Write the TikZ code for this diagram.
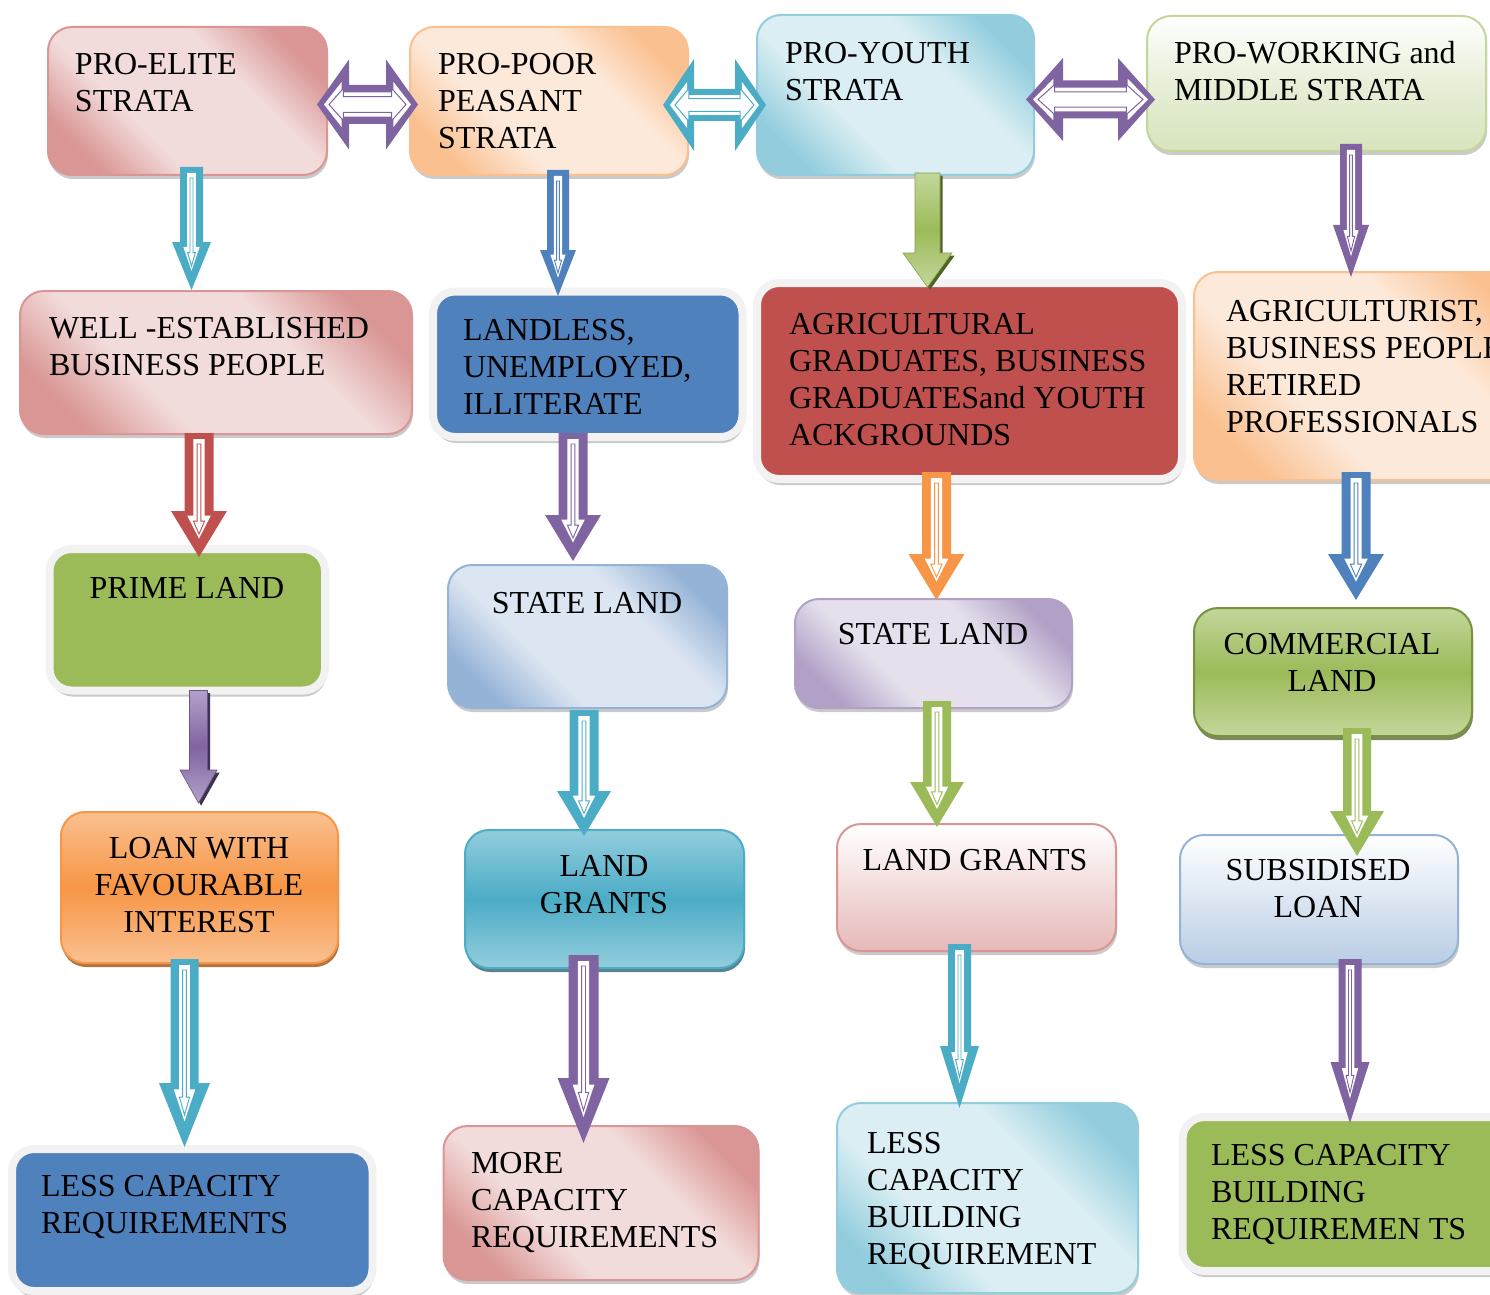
\documentclass[tikz,border=0pt]{standalone}
\usepackage{fontspec}
\setmainfont{Liberation Serif}
\usetikzlibrary{shadows,fit,calc}

\definecolor{pinkD}{HTML}{D99694}
\definecolor{pinkL}{HTML}{F2DCDB}
\definecolor{pinkM}{HTML}{E6B9B8}
\definecolor{orgD}{HTML}{FAC090}
\definecolor{orgL}{HTML}{FDE9D9}
\definecolor{org}{HTML}{F79646}
\definecolor{orgSh}{HTML}{984807}
\definecolor{aquaD}{HTML}{93CDDD}
\definecolor{aquaL}{HTML}{DAEEF3}
\definecolor{aqua}{HTML}{4BACC6}
\definecolor{aquaSh}{HTML}{215968}
\definecolor{grnL}{HTML}{D7E4BD}
\definecolor{grnM}{HTML}{C3D69B}
\definecolor{grn}{HTML}{9BBB59}
\definecolor{grnDk}{HTML}{77933C}
\definecolor{grnSh}{HTML}{4F6228}
\definecolor{blu}{HTML}{4F81BD}
\definecolor{bluD}{HTML}{95B3D7}
\definecolor{bluL}{HTML}{DCE6F2}
\definecolor{bluM}{HTML}{B9CDE5}
\definecolor{redx}{HTML}{C0504D}
\definecolor{pur}{HTML}{8064A2}
\definecolor{purD}{HTML}{B2A1C7}
\definecolor{purL}{HTML}{E5E0EC}
\definecolor{purSh}{HTML}{3F3151}
\definecolor{glow}{HTML}{F2F2F2}

% diagonal sheen: dark corners, light band through the middle
\colorlet{shdark}{black}
\colorlet{shlight}{white}
\pgfdeclarehorizontalshading[shdark,shlight]{boxdiag}{100bp}{color(0bp)=(shdark); color(24bp)=(shdark); color(38bp)=(shlight); color(62bp)=(shlight); color(76bp)=(shdark); color(100bp)=(shdark)}

% hollow block arrow pointing down: start, tip, colour, shaft half-width, head half-width, head length (px)
\newcommand\flowdown[6]{%
  \path (#1); \pgfgetlastxy{\arrSx}{\arrSy}
  \path (#2); \pgfgetlastxy{\arrTx}{\arrTy}
  \pgfmathsetmacro\arrL{(\arrSy-\arrTy)/0.5}
  \begin{scope}[shift={(#1)}]
    \fill[#3] (-#4,0) -- (#4,0) -- (#4,\arrL-#6) -- (#5,\arrL-#6) -- (0,\arrL)
      -- (-#5,\arrL-#6) -- (-#4,\arrL-#6) -- cycle;
    \fill[white] (-0.38*#4,6) -- (0.38*#4,6) -- (0.38*#4,\arrL-0.9*#6) -- (0.42*#5,\arrL-0.9*#6)
      -- (0,\arrL-0.4*#6) -- (-0.42*#5,\arrL-0.9*#6) -- (-0.38*#4,\arrL-0.9*#6) -- cycle;
    \filldraw[fill=white, draw=#3, line width=0.45pt] (-0.13*#4,11) -- (0.13*#4,11)
      -- (0.13*#4,\arrL-0.78*#6) -- (0.2*#5,\arrL-0.78*#6) -- (0,\arrL-0.5*#6)
      -- (-0.2*#5,\arrL-0.78*#6) -- (-0.13*#4,\arrL-0.78*#6) -- cycle;
  \end{scope}}

% hollow double-headed block arrow: left tip, right tip, colour, shaft half-width, head half-width, head length (px)
\newcommand\flowboth[6]{%
  \path (#1); \pgfgetlastxy{\arrSx}{\arrSy}
  \path (#2); \pgfgetlastxy{\arrTx}{\arrTy}
  \pgfmathsetmacro\arrL{(\arrTx-\arrSx)/0.5}
  \begin{scope}[shift={(#1)}]
    \fill[#3] (0,0) -- (#6,-#5) -- (#6,-#4) -- (\arrL-#6,-#4) -- (\arrL-#6,-#5) -- (\arrL,0)
      -- (\arrL-#6,#5) -- (\arrL-#6,#4) -- (#6,#4) -- (#6,#5) -- cycle;
    \fill[white] (7,0) -- (7+0.55*#6,-0.5*#5) -- (7+0.55*#6,-0.62*#4) -- (\arrL-7-0.55*#6,-0.62*#4)
      -- (\arrL-7-0.55*#6,-0.5*#5) -- (\arrL-7,0) -- (\arrL-7-0.55*#6,0.5*#5)
      -- (\arrL-7-0.55*#6,0.62*#4) -- (7+0.55*#6,0.62*#4) -- (7+0.55*#6,0.5*#5) -- cycle;
    \filldraw[fill=white, draw=#3, line width=0.5pt] (12,0) -- (12+0.45*#6,-0.36*#5)
      -- (12+0.45*#6,-0.4*#4) -- (\arrL-12-0.45*#6,-0.4*#4) -- (\arrL-12-0.45*#6,-0.36*#5)
      -- (\arrL-12,0) -- (\arrL-12-0.45*#6,0.36*#5) -- (\arrL-12-0.45*#6,0.4*#4)
      -- (12+0.45*#6,0.4*#4) -- (12+0.45*#6,0.36*#5) -- cycle;
  \end{scope}}

% solid shaded block arrow pointing down: start, tip, light, dark, shadow, shaft half-width, head half-width, head length (px)
\newcommand\solidflow[8]{%
  \path (#1); \pgfgetlastxy{\arrSx}{\arrSy}
  \path (#2); \pgfgetlastxy{\arrTx}{\arrTy}
  \pgfmathsetmacro\arrL{(\arrSy-\arrTy)/0.5}
  \begin{scope}[shift={(#1)}]
    \path[drop shadow={shadow xshift=1.3pt, shadow yshift=-1.3pt, opacity=1, fill=#5},
          top color=#3, bottom color=#3, middle color=#4, draw=#4!85!black, line width=0.3pt]
      (-#6,0) -- (#6,0) -- (#6,\arrL-#8) -- (#7,\arrL-#8) -- (0,\arrL)
      -- (-#7,\arrL-#8) -- (-#6,\arrL-#8) -- cycle;
  \end{scope}}

\begin{document}
\begin{tikzpicture}[x=0.5pt, y=-0.5pt,
  box/.style={rounded corners=12pt, inner sep=0pt, outer sep=0pt, line width=1pt,
    drop shadow={shadow xshift=0.5pt, shadow yshift=-2pt, opacity=0.35, fill=black!60}},
  deepbox/.style={rounded corners=12pt, inner sep=0pt, outer sep=0pt, line width=1pt,
    drop shadow={shadow xshift=0.5pt, shadow yshift=-2pt, opacity=0.75, fill=#1}},
  glowbox/.style={rounded corners=11pt, inner sep=0pt, outer sep=0pt, draw=glow, line width=4pt,
    drop shadow={shadow xshift=0.6pt, shadow yshift=-3pt, opacity=0.35, fill=black!60}},
  diag/.style 2 args={/utils/exec={\colorlet{shdark}{#1}\colorlet{shlight}{#2}},
    shading=boxdiag, shading angle=45},
  vband/.style 2 args={top color=#1, bottom color=#1, middle color=#2},
  txt/.style={font=\fontsize{16pt}{18.5pt}\selectfont, inner sep=0pt, outer sep=0pt},
  txtl/.style={txt, align=left, anchor=north west},
  txtc/.style={txt, align=center, anchor=north}]

\useasboundingbox (0,0) rectangle (1490,1295);
\clip (0,0) rectangle (1490,1295);

% ---- top row: the four strata
\node[box, diag={pinkD}{pinkL}, draw=pinkD, fit={(48,27)(327,175)}] (b1) {};
\node[box, diag={orgD}{orgL}, draw=orgD, fit={(410,27)(688,175)}] (b2) {};
\node[box, diag={aquaD}{aquaL}, draw=aquaD, fit={(757,15)(1034,175)}] (b3) {};
\node[box, top color=white, bottom color=grnL, middle color=grnL!60!white, draw=grnM, fit={(1147,16)(1486,151)}] (b4) {};

\node[txtl] (b1t) at (75,53) {PRO-ELITE\\STRATA};
\node[txtl] (b2t) at (438,53) {PRO-POOR\\PEASANT\\STRATA};
\node[txtl] (b3t) at (785,42) {PRO-YOUTH\\STRATA};
\node[txtl] (b4t) at (1174,41) {PRO-WORKING and\\MIDDLE STRATA};

% ---- second row: target groups
\node[box, diag={pinkD}{pinkL}, draw=pinkD, fit={(20,291)(412,434)}] (c1) {};
\node[glowbox, fill=blu, fit={(433,291.5)(742.5,437)}] (c2) {};
\node[glowbox, fill=redx, fit={(757,283)(1182,479)}] (c3) {};
\node[box, diag={orgD}{orgL}, draw=orgD, fit={(1194,272)(1545,480)}] (c4) {};

\node[txtl] (c1t) at (49,317) {WELL -ESTABLISHED\\BUSINESS PEOPLE};
\node[txtl] (c2t) at (463,319) {LANDLESS,\\UNEMPLOYED,\\ILLITERATE};
\node[txtl] (c3t) at (789,313) {AGRICULTURAL\\GRADUATES, BUSINESS\\GRADUATESand YOUTH\\ACKGROUNDS};
\node[txtl] (c4t) at (1226,300) {AGRICULTURIST,\\BUSINESS PEOPLE\\RETIRED\\PROFESSIONALS};

% ---- third row: land types
\node[glowbox, fill=grn, fit={(49.5,549)(325,690.5)}] (d1) {};
\node[box, diag={bluD}{bluL}, draw=bluD, fit={(448,565)(727,708)}] (d2) {};
\node[box, diag={purD}{purL}, draw=purD, fit={(795,599)(1072,708)}] (d3) {};
\node[deepbox=grnSh, vband={grnM}{grn}, draw=grnDk, fit={(1194,608)(1472,736)}] (d4) {};

\node[txtc] (d1t) at (187,577) {PRIME LAND};
\node[txtc] (d2t) at (587,592) {STATE LAND};
\node[txtc] (d3t) at (933,623) {STATE LAND};
\node[txtc] (d4t) at (1332,633) {COMMERCIAL\\LAND};

% ---- fourth row: terms
\node[deepbox=orgSh, vband={orgD}{org}, draw=org, fit={(61,812)(338,963)}] (e1) {};
\node[deepbox=aquaSh, vband={aquaD}{aqua}, draw=aqua, fit={(465,830)(744,968)}] (e2) {};
\node[box, top color=white, bottom color=pinkM, middle color=pinkL, draw=pinkD, fit={(837,824)(1116,951)}] (e3) {};
\node[box, top color=white, bottom color=bluM, middle color=bluL, draw=bluD, fit={(1180,835)(1458,964)}] (e4) {};

\node[txtc] (e1t) at (199,837) {LOAN WITH\\FAVOURABLE\\INTEREST};
\node[txtc] (e2t) at (604,855) {LAND\\GRANTS};
\node[txtc] (e3t) at (975,849) {LAND GRANTS};
\node[txtc] (e4t) at (1318,859) {SUBSIDISED\\LOAN};

% ---- bottom row: capacity requirements
\node[glowbox, fill=blu, fit={(12,1149)(372.5,1291)}] (f1) {};
\node[box, diag={pinkD}{pinkL}, draw=pinkD, fit={(443.5,1126)(758.5,1280)}] (f2) {};
\node[box, diag={aquaD}{aquaL}, draw=aquaD, fit={(837,1103)(1138,1293)}] (f3) {};
\node[glowbox, fill=grn, fit={(1182.5,1117)(1540,1271)}] (f4) {};

\node[txtl] (f1t) at (41,1175) {LESS CAPACITY\\REQUIREMENTS};
\node[txtl] (f2t) at (471,1152) {MORE\\CAPACITY\\REQUIREMENTS};
\node[txtl] (f3t) at (867,1132) {LESS\\CAPACITY\\BUILDING\\REQUIREMENT};
\node[txtl] (f4t) at (1211,1144) {LESS CAPACITY\\BUILDING\\REQUIREMEN TS};

% ---- links between the strata
\coordinate (h1l) at ($(b1.east)+(-10,3.5)$);
\coordinate (h1r) at ($(h1l -| b2.west)+(8,0)$);
\flowboth{h1l}{h1r}{pur}{19.5}{45}{32}
\coordinate (h2l) at ($(b2.east)+(-25,4)$);
\coordinate (h2r) at ($(h2l -| b3.west)+(9,0)$);
\flowboth{h2l}{h2r}{aqua}{16}{46}{31}
\coordinate (h3l) at ($(b3.east)+(-8,4.5)$);
\coordinate (h3r) at ($(h3l -| b4.west)+(8,0)$);
\flowboth{h3l}{h3r}{pur}{19}{41.5}{37}

% ---- strata to groups
\coordinate (a1s) at ($(b1.south -| 191.5,0)+(0,-8)$);
\coordinate (a1t) at ($(c1.north -| 191.5,0)+(0,-1)$);
\flowdown{a1s}{a1t}{aqua}{11.5}{19.5}{48}
\coordinate (a2s) at ($(b2.south -| 558,0)+(0,-5)$);
\coordinate (a2t) at ($(c2.north -| 558,0)+(0,4.5)$);
\flowdown{a2s}{a2t}{blu}{11}{18}{46}
\coordinate (a3s) at ($(b3.south -| 927.5,0)+(0,-2)$);
\coordinate (a3t) at ($(c3.north -| 927.5,0)+(0,4)$);
\solidflow{a3s}{a3t}{grnM}{grn}{grnSh}{12.5}{24.5}{34}
\coordinate (a4s) at ($(b4.south -| 1351,0)+(0,-7)$);
\coordinate (a4t) at ($(c4.north -| 1351,0)+(0,5)$);
\flowdown{a4s}{a4t}{pur}{11}{18}{52}

% ---- groups to land types
\coordinate (g1s) at ($(c1.south -| 199,0)+(0,-1)$);
\coordinate (g1t) at ($(d1.north -| 199,0)+(0,8)$);
\flowdown{g1s}{g1t}{redx}{14.5}{28}{46}
\coordinate (g2s) at ($(c2.south -| 573,0)+(0,-4)$);
\coordinate (g2t) at ($(d2.north -| 573,0)+(0,-4)$);
\flowdown{g2s}{g2t}{pur}{14.5}{28}{46}
\coordinate (g3s) at ($(c3.south -| 936.5,0)+(0,-7)$);
\coordinate (g3t) at ($(d3.north -| 936.5,0)+(0,1)$);
\flowdown{g3s}{g3t}{org}{14.5}{28}{46}
\coordinate (g4s) at ($(c4.south -| 1356,0)+(0,-8)$);
\coordinate (g4t) at ($(d4.north -| 1356,0)+(0,-8)$);
\flowdown{g4s}{g4t}{blu}{14.5}{28}{46}

% ---- land types to terms
\coordinate (l1s) at ($(d1.south -| 198.5,0)+(0,0)$);
\coordinate (l1t) at ($(e1.north -| 198.5,0)+(0,-9)$);
\solidflow{l1s}{l1t}{purD}{pur}{purSh}{9}{18.5}{33}
\coordinate (l2s) at ($(d2.south -| 584,0)+(0,2)$);
\coordinate (l2t) at ($(e2.north -| 584,0)+(0,6)$);
\flowdown{l2s}{l2t}{aqua}{14.5}{27}{45}
\coordinate (l3s) at ($(d3.south -| 937,0)+(0,-7)$);
\coordinate (l3t) at ($(e3.north -| 937,0)+(0,3)$);
\flowdown{l3s}{l3t}{grn}{14}{27}{45}
\coordinate (l4s) at ($(d4.south -| 1357,0)+(0,-8)$);
\coordinate (l4t) at ($(e4.north -| 1357,0)+(0,21)$);
\flowdown{l4s}{l4t}{grn}{14}{27}{45}

% ---- terms to capacity requirements
\coordinate (r1s) at ($(e1.south -| 184.5,0)+(0,-4)$);
\coordinate (r1t) at ($(f1.north -| 184.5,0)+(0,-2)$);
\flowdown{r1s}{r1t}{aqua}{14}{25.5}{64}
\coordinate (r2s) at ($(e2.south -| 583.5,0)+(0,-13)$);
\coordinate (r2t) at ($(f2.north -| 583.5,0)+(0,17)$);
\flowdown{r2s}{r2t}{pur}{15}{26}{65}
\coordinate (r3s) at ($(e3.south -| 959.5,0)+(0,-7)$);
\coordinate (r3t) at ($(f3.north -| 959.5,0)+(0,5)$);
\flowdown{r3s}{r3t}{aqua}{11.5}{19.5}{62}
\coordinate (r4s) at ($(e4.south -| 1350,0)+(0,-5)$);
\coordinate (r4t) at ($(f4.north -| 1350,0)+(0,6)$);
\flowdown{r4s}{r4t}{pur}{11.5}{19.5}{61}

\end{tikzpicture}
\end{document}
